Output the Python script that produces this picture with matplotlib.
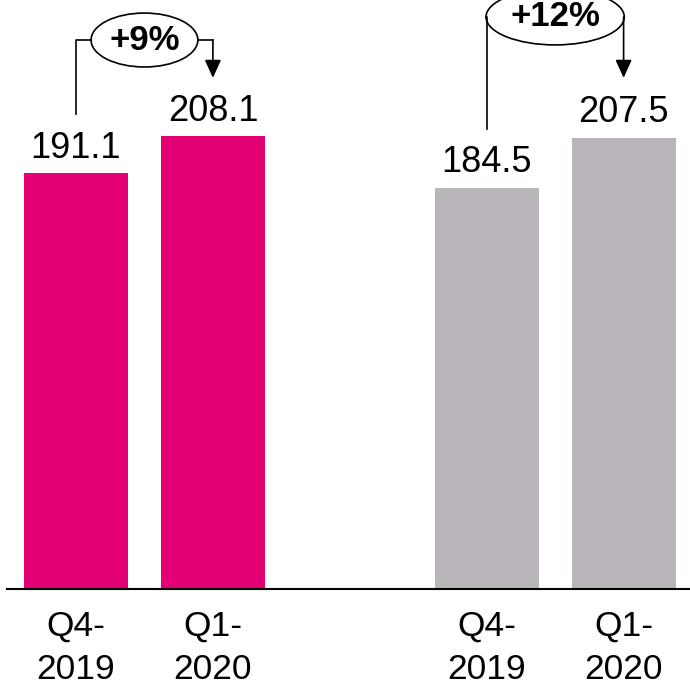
import matplotlib.pyplot as plt
from matplotlib.patches import Ellipse

plt.rcParams['font.family'] = ['Liberation Sans', 'DejaVu Sans']

# revenue per quarter, two segments
categories = ['Q4-\n2019', 'Q1-\n2020', 'Q4-\n2019', 'Q1-\n2020']
positions = [0, 1, 3, 4]
values = [191.1, 208.1, 184.5, 207.5]
colors = ['#e20074', '#e20074', '#bab5ba', '#bab5ba']
growth = ['+9%', '+12%']

fig = plt.figure(figsize=(6.9, 6.87), dpi=100)
ax = fig.add_axes([7 / 690, 98 / 687, 683 / 690, 589 / 687])

ax.bar(positions, values, width=0.76, color=colors)
for x, v in zip(positions, values):
    ax.annotate(f'{v:.1f}', (x, v), xytext=(0, 5.5), textcoords='offset points',
                ha='center', va='bottom', fontsize=26)

ax.set_xlim(-0.504, 4.485)
ax.set_ylim(0, 270.8)
ax.set_xticks(positions)
ax.set_xticklabels(categories, fontsize=25.5, linespacing=1.4)
ax.tick_params(axis='x', length=0, pad=15)
ax.set_yticks([])
for s in ['top', 'left', 'right']:
    ax.spines[s].set_visible(False)
ax.spines['bottom'].set_linewidth(1.5)

# growth brackets: (start bar, end bar, start height, bubble height, bubble width, bubble height span)
brackets = [(0, 1, 218.4, 252.4, 0.78, 24.8), (3, 4, 211.5, 263.0, 1.01, 25.7)]
for (x0, x1, y0, yb, w, h), label in zip(brackets, growth):
    xm = (x0 + x1) / 2
    left = xm - w / 2
    right = xm + w / 2
    ax.plot([x0, x0, left], [y0, yb, yb], color='black', lw=1.2)
    ax.plot([right, x1], [yb, yb], color='black', lw=1.2)
    ax.annotate('', xy=(x1, 235.0), xytext=(x1, yb),
                arrowprops=dict(arrowstyle='-|>,head_length=1.1,head_width=0.5',
                                color='black', lw=1.2, shrinkA=0, shrinkB=0))
    ax.add_patch(Ellipse((xm, yb), w, h, facecolor='white', edgecolor='black', lw=1.2))
    ax.text(xm, yb, label, ha='center', va='center', fontsize=25, fontweight='bold')

fig.savefig('out.png', dpi=100)
